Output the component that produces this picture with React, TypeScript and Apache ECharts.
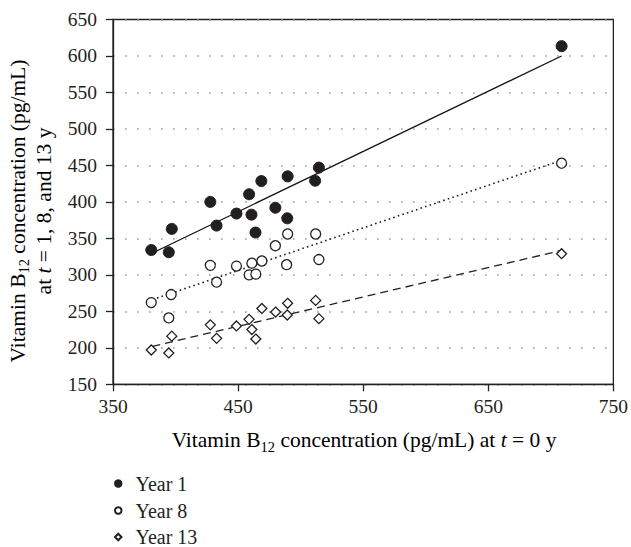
import React, { useEffect, useRef } from "react";
import * as echarts from "echarts";

const FONT = "Liberation Serif";
const INK = "#231f20";

const seriesNames = ["Year 1", "Year 8", "Year 13"];

const year1X = [380.6, 394.6, 397, 427.8, 432.8, 448.7, 458.8, 460.7, 463.9, 468.6, 479.8, 489.6, 489.3, 511.6, 514.6, 708.6];
const year1Y = [334, 331, 363, 400, 367.5, 384, 410.5, 382.5, 358, 428.5, 392, 435, 377.5, 429, 447, 613.5];

const year8X = [380.6, 396.5, 394.6, 427.8, 432.8, 448.7, 458.8, 461, 464.2, 469, 479.8, 489.6, 488.8, 512, 514.6, 708.6];
const year8Y = [262, 273, 241, 313, 290, 312, 300, 316, 301, 319, 340, 356, 314, 356, 321, 453];

const year13X = [380.6, 394.6, 397, 427.8, 432.8, 448.7, 458.8, 461, 464.2, 469, 480, 489.6, 489.3, 512, 514.6, 708.6];
const year13Y = [197, 193, 216, 231.5, 213, 230, 239, 225, 212, 254, 249, 261, 245, 265, 240, 329];

// fitted trend lines, endpoints
const trend1 = [[381.5, 330], [708.6, 600]];
const trend8 = [[381.5, 266], [708.6, 457]];
const trend13 = [[381.5, 202], [708.6, 333.5]];

const xTicks = { min: 350, max: 750, interval: 100 };
const yTicks = { min: 150, max: 650, interval: 50 };

const zip = (xs: number[], ys: number[]) => xs.map((x, i) => [x, ys[i]]);

const TITLE_SIZE = 21.5;
const richBase = {
  a: { fontFamily: FONT, fontSize: TITLE_SIZE, color: INK, lineHeight: 28, verticalAlign: "middle" },
  i: { fontFamily: FONT, fontSize: TITLE_SIZE, color: INK, fontStyle: "italic", lineHeight: 28, verticalAlign: "middle" },
  s: { fontFamily: FONT, fontSize: 14.5, color: INK, lineHeight: 15, verticalAlign: "bottom" },
};

const legendTops = [473.5, 500.5, 527];

export default function App() {
  const ref = useRef<HTMLDivElement>(null);
  useEffect(() => {
    if (!ref.current) return;
    const chart = echarts.init(ref.current, null, { renderer: "svg" });
    const circleStyle = { color: INK, borderColor: INK, borderWidth: 1, opacity: 1 };
    const openStyle = { color: "#fff", borderColor: INK, borderWidth: 1.3, opacity: 1 };
    chart.setOption({
      animation: false,
      backgroundColor: "#fff",
      grid: {
        left: 113,
        right: 15,
        top: 19.5,
        bottom: 162.7,
        show: true,
        borderColor: "#222",
        borderWidth: 1.3,
        containLabel: false,
      },
      legend: seriesNames.map((n, i) => ({
        data: [n],
        orient: "vertical",
        left: 114,
        top: legendTops[i],
        itemWidth: 6.5,
        itemHeight: 6.5,
        padding: 0,
        textStyle: { fontFamily: FONT, fontSize: 20, color: INK, lineHeight: 20, padding: [0, 0, 0, 9] },
        selectedMode: false,
      })),
      xAxis: {
        type: "value",
        min: xTicks.min,
        max: xTicks.max,
        interval: xTicks.interval,
        axisLine: { show: true, onZero: false, lineStyle: { color: "#222", width: 1.3 } },
        axisTick: { show: true, inside: false, length: 7, lineStyle: { color: "#222", width: 1.3 } },
        axisLabel: { fontFamily: FONT, fontSize: 19.5, color: INK, margin: 12 },
        splitLine: { show: false },
      },
      yAxis: {
        type: "value",
        min: yTicks.min,
        max: yTicks.max,
        interval: yTicks.interval,
        axisLine: { show: true, onZero: false, lineStyle: { color: "#222", width: 1.3 } },
        axisTick: { show: true, inside: false, length: 7, lineStyle: { color: "#222", width: 1.3 } },
        axisLabel: { fontFamily: FONT, fontSize: 19.5, color: INK, margin: 16 },
        splitLine: { show: true, lineStyle: { color: "#9a9a9a", width: 1.6, type: [1.6, 10.4] } },
      },
      graphic: [
        {
          type: "text",
          x: 364,
          y: 440,
          style: {
            text: "{a|Vitamin B}{s|12}{a| concentration (pg/mL) at }{i|t}{a| = 0 y}",
            rich: richBase,
            align: "center",
            verticalAlign: "middle",
          },
        },
        {
          type: "text",
          x: 17.5,
          y: 211,
          rotation: Math.PI / 2,
          style: {
            text: "{a|Vitamin B}{s|12}{a| concentration (pg/mL)}",
            rich: richBase,
            align: "center",
            verticalAlign: "middle",
          },
        },
        {
          type: "text",
          x: 44,
          y: 211,
          rotation: Math.PI / 2,
          style: {
            text: "{a|at }{i|t}{a| = 1, 8, and 13 y}",
            rich: richBase,
            align: "center",
            verticalAlign: "middle",
          },
        },
      ],
      series: [
        {
          type: "line",
          data: trend1,
          symbol: "none",
          lineStyle: { color: "#111", width: 1.3, type: "solid" },
          silent: true,
          z: 1,
        },
        {
          type: "line",
          data: trend8,
          symbol: "none",
          lineStyle: { color: "#222", width: 1.6, type: [1.6, 3.2] },
          silent: true,
          z: 1,
        },
        {
          type: "line",
          data: trend13,
          symbol: "none",
          lineStyle: { color: "#222", width: 1.3, type: [8, 5] },
          silent: true,
          z: 1,
        },
        {
          name: seriesNames[0],
          type: "scatter",
          data: zip(year1X, year1Y),
          symbol: "circle",
          symbolSize: 11,
          itemStyle: circleStyle,
          z: 3,
        },
        {
          name: seriesNames[1],
          type: "scatter",
          data: zip(year8X, year8Y),
          symbol: "circle",
          symbolSize: 10,
          itemStyle: openStyle,
          z: 3,
        },
        {
          name: seriesNames[2],
          type: "scatter",
          data: zip(year13X, year13Y),
          symbol: "diamond",
          symbolSize: 10,
          itemStyle: openStyle,
          z: 3,
        },
      ],
    });
    return () => chart.dispose();
  }, []);
  return (
    <div
      ref={ref}
      style={{ position: "fixed", left: 0, top: 0, width: 631, height: 547 }}
    />
  );
}
